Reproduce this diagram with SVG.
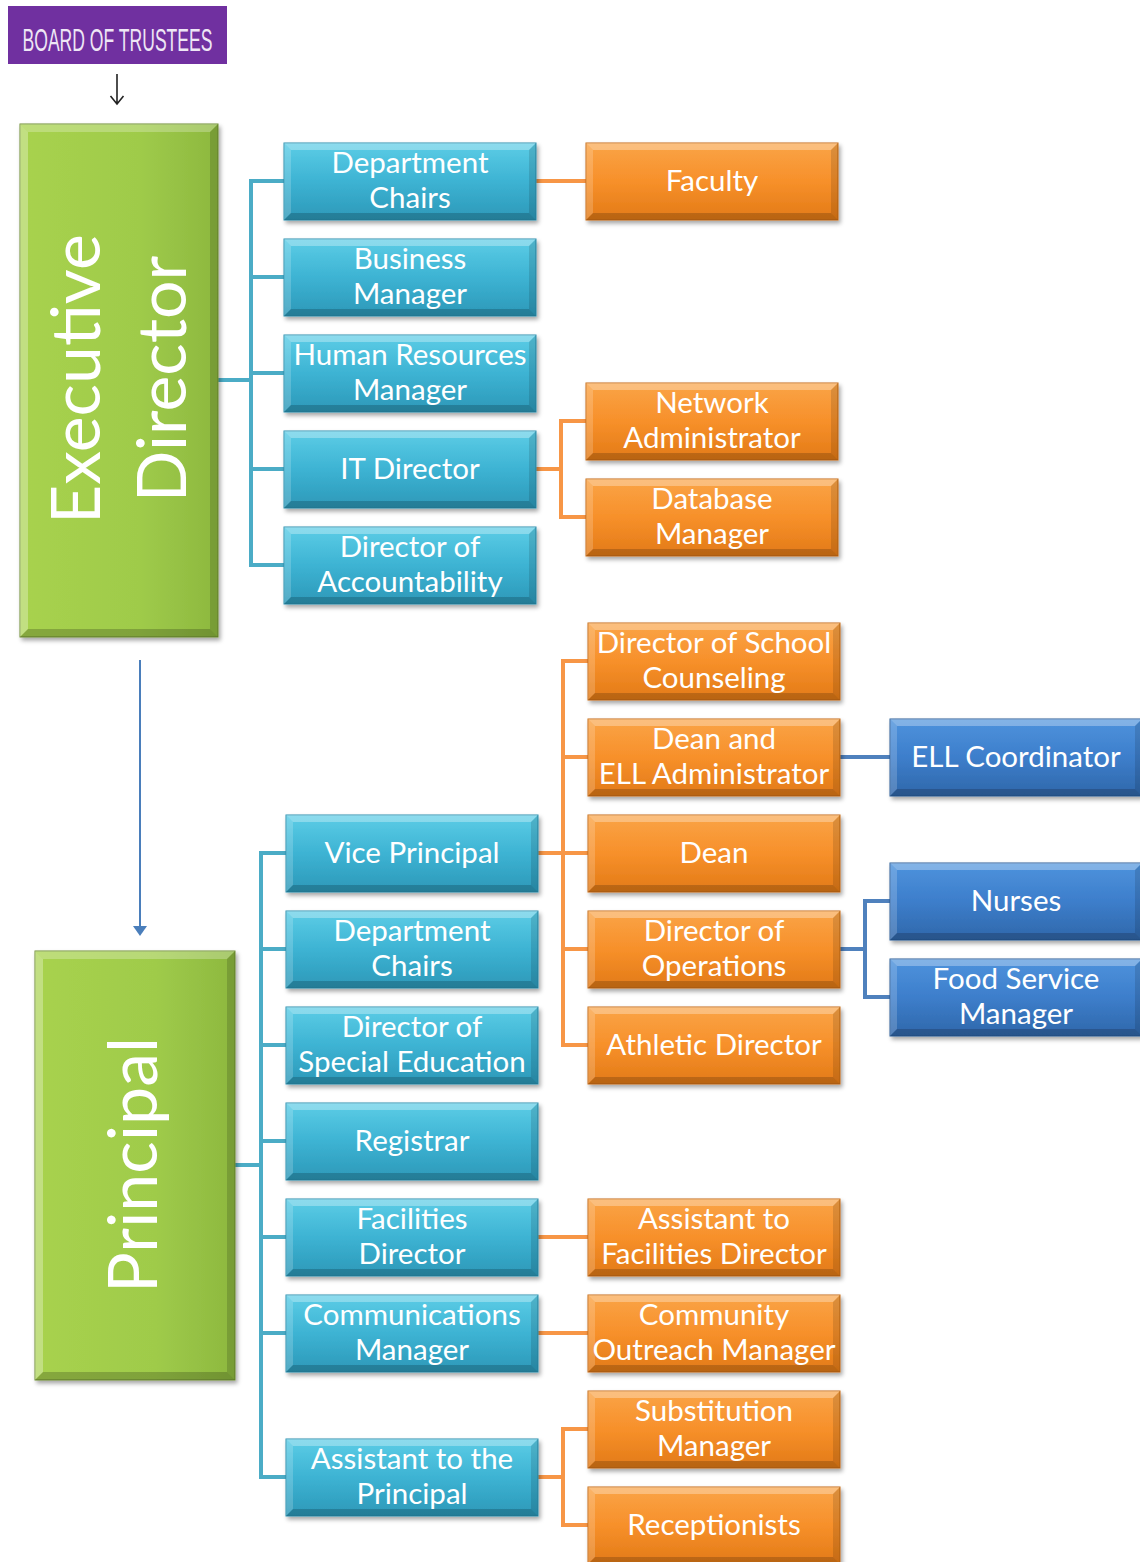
<svg xmlns="http://www.w3.org/2000/svg" xmlns:xlink="http://www.w3.org/1999/xlink" width="1140" height="1562" viewBox="0 0 1140 1562">
<style>
.t{font-family:Lato,"Open Sans",sans-serif;font-size:29.5px;fill:#fff;text-anchor:middle}
.big{font-family:Lato,"Open Sans",sans-serif;font-size:68px;fill:#fff;text-anchor:middle}
.cc{fill:none;stroke:#4BACC6;stroke-width:4}
.co{fill:none;stroke:#F79646;stroke-width:4}
.cb{fill:none;stroke:#4F81BD;stroke-width:4}
</style>
<defs>
<filter id="sh" x="-10%" y="-10%" width="125%" height="130%"><feDropShadow dx="2" dy="3" stdDeviation="2" flood-color="#000" flood-opacity="0.35"/></filter>
<linearGradient id="gC" x1="0" y1="0" x2="0" y2="1"><stop offset="0" stop-color="#5CCDE6"/><stop offset="0.5" stop-color="#3DB3D3"/><stop offset="1" stop-color="#2C98B8"/></linearGradient>
<linearGradient id="gO" x1="0" y1="0" x2="0" y2="1"><stop offset="0" stop-color="#FAA447"/><stop offset="0.5" stop-color="#F7902A"/><stop offset="1" stop-color="#E27A17"/></linearGradient>
<linearGradient id="gB" x1="0" y1="0" x2="0" y2="1"><stop offset="0" stop-color="#4E93DD"/><stop offset="0.5" stop-color="#3D7ECB"/><stop offset="1" stop-color="#2F67AA"/></linearGradient>
<linearGradient id="gG" x1="0" y1="0" x2="1" y2="0"><stop offset="0" stop-color="#A8D24E"/><stop offset="0.6" stop-color="#9FCB4A"/><stop offset="1" stop-color="#8DB83F"/></linearGradient>
<g id="bev">
<polygon points="0,0 252,0 245,7 7,7" fill="#fff" opacity="0.3"/>
<polygon points="0,0 7,7 7,70 0,77" fill="#fff" opacity="0.18"/>
<polygon points="0,77 7,70 245,70 252,77" fill="#000" opacity="0.18"/>
<polygon points="252,0 252,77 245,70 245,7" fill="#000" opacity="0.12"/>
</g>
<g id="bC"><rect width="252" height="77" fill="url(#gC)" stroke="#2A8FAE" stroke-width="1" filter="url(#sh)"/><use xlink:href="#bev"/></g>
<g id="bO"><rect width="252" height="77" fill="url(#gO)" stroke="#C56A12" stroke-width="1" filter="url(#sh)"/><use xlink:href="#bev"/></g>
<g id="bB"><rect width="252" height="77" fill="url(#gB)" stroke="#2A5C98" stroke-width="1" filter="url(#sh)"/><use xlink:href="#bev"/></g>
</defs>
<rect width="1140" height="1562" fill="#fff"/>

<g id="connectors">
<path d="M117,74 V104 M110.5,96 L117,104 L123.5,96" fill="none" stroke="#222" stroke-width="1.6"/>
<path d="M140,660 V928" fill="none" stroke="#4A7EBB" stroke-width="2"/>
<path d="M133,926 L147,926 L140,936 Z" fill="#4A7EBB"/>
<path class="cc" d="M218,380 H251 M284,181 H251 V565 H284 M251,277 H284 M251,373 H284 M251,469 H284"/>
<path class="co" d="M536,181 H586"/>
<path class="co" d="M536,469 H561 M586,421 H561 V517 H586"/>
<path class="cc" d="M235,1165 H261 M286,853 H261 V1477 H286 M261,949 H286 M261,1045 H286 M261,1141 H286 M261,1237 H286 M261,1333 H286"/>
<path class="co" d="M538,853 H563 M588,661 H563 V1045 H588 M563,757 H588 M563,853 H588 M563,949 H588"/>
<path class="cb" d="M840,757 H890"/>
<path class="cb" d="M840,949 H865 M890,901 H865 V997 H890"/>
<path class="co" d="M538,1237 H588 M538,1333 H588"/>
<path class="co" d="M538,1477 H563 M588,1429 H563 V1525 H588"/>
</g>

<g id="board">
<rect x="8" y="6" width="219" height="58" fill="#7030A0"/>
<text x="117.5" y="51" font-family="'Liberation Sans',sans-serif" font-size="31" fill="#EEE6F5" text-anchor="middle" textLength="190" lengthAdjust="spacingAndGlyphs">BOARD OF TRUSTEES</text>
</g>

<g id="exec">
<rect x="20" y="124" width="198" height="513" fill="url(#gG)" stroke="#6E8E34" stroke-width="1" filter="url(#sh)"/>
<polygon points="20,124 218,124 210,132 28,132" fill="#fff" opacity="0.25"/>
<polygon points="20,124 28,132 28,629 20,637" fill="#fff" opacity="0.3"/>
<polygon points="20,637 28,629 210,629 218,637" fill="#000" opacity="0.2"/>
<polygon points="218,124 218,637 210,629 210,132" fill="#000" opacity="0.15"/>
<text class="big" transform="translate(100,379) rotate(-90)">Executive</text>
<text class="big" transform="translate(186,379) rotate(-90)">Director</text>
</g>

<g id="principal">
<rect x="35" y="951" width="200" height="429" fill="url(#gG)" stroke="#6E8E34" stroke-width="1" filter="url(#sh)"/>
<polygon points="35,951 235,951 227,959 43,959" fill="#fff" opacity="0.25"/>
<polygon points="35,951 43,959 43,1372 35,1380" fill="#fff" opacity="0.3"/>
<polygon points="35,1380 43,1372 227,1372 235,1380" fill="#000" opacity="0.2"/>
<polygon points="235,951 235,1380 227,1372 227,959" fill="#000" opacity="0.15"/>
<text class="big" transform="translate(157,1165) rotate(-90)">Principal</text>
</g>

<g id="ed-dept-chairs" transform="translate(284,143)"><use xlink:href="#bC"/><text class="t" x="126" y="30">Department</text><text class="t" x="126" y="65">Chairs</text></g>
<g id="business-manager" transform="translate(284,239)"><use xlink:href="#bC"/><text class="t" x="126" y="30">Business</text><text class="t" x="126" y="65">Manager</text></g>
<g id="hr-manager" transform="translate(284,335)"><use xlink:href="#bC"/><text class="t" x="126" y="30">Human Resources</text><text class="t" x="126" y="65">Manager</text></g>
<g id="it-director" transform="translate(284,431)"><use xlink:href="#bC"/><text class="t" x="126" y="48">IT Director</text></g>
<g id="dir-accountability" transform="translate(284,527)"><use xlink:href="#bC"/><text class="t" x="126" y="30">Director of</text><text class="t" x="126" y="65">Accountability</text></g>

<g id="faculty" transform="translate(586,143)"><use xlink:href="#bO"/><text class="t" x="126" y="48">Faculty</text></g>
<g id="network-admin" transform="translate(586,383)"><use xlink:href="#bO"/><text class="t" x="126" y="30">Network</text><text class="t" x="126" y="65">Administrator</text></g>
<g id="database-manager" transform="translate(586,479)"><use xlink:href="#bO"/><text class="t" x="126" y="30">Database</text><text class="t" x="126" y="65">Manager</text></g>

<g id="vice-principal" transform="translate(286,815)"><use xlink:href="#bC"/><text class="t" x="126" y="48">Vice Principal</text></g>
<g id="p-dept-chairs" transform="translate(286,911)"><use xlink:href="#bC"/><text class="t" x="126" y="30">Department</text><text class="t" x="126" y="65">Chairs</text></g>
<g id="dir-special-ed" transform="translate(286,1007)"><use xlink:href="#bC"/><text class="t" x="126" y="30">Director of</text><text class="t" x="126" y="65">Special Education</text></g>
<g id="registrar" transform="translate(286,1103)"><use xlink:href="#bC"/><text class="t" x="126" y="48">Registrar</text></g>
<g id="facilities-director" transform="translate(286,1199)"><use xlink:href="#bC"/><text class="t" x="126" y="30">Facilities</text><text class="t" x="126" y="65">Director</text></g>
<g id="communications-manager" transform="translate(286,1295)"><use xlink:href="#bC"/><text class="t" x="126" y="30">Communications</text><text class="t" x="126" y="65">Manager</text></g>
<g id="assistant-principal" transform="translate(286,1439)"><use xlink:href="#bC"/><text class="t" x="126" y="30">Assistant to the</text><text class="t" x="126" y="65">Principal</text></g>

<g id="dir-counseling" transform="translate(588,623)"><use xlink:href="#bO"/><text class="t" x="126" y="30">Director of School</text><text class="t" x="126" y="65">Counseling</text></g>
<g id="dean-ell" transform="translate(588,719)"><use xlink:href="#bO"/><text class="t" x="126" y="30">Dean and</text><text class="t" x="126" y="65">ELL Administrator</text></g>
<g id="dean" transform="translate(588,815)"><use xlink:href="#bO"/><text class="t" x="126" y="48">Dean</text></g>
<g id="dir-operations" transform="translate(588,911)"><use xlink:href="#bO"/><text class="t" x="126" y="30">Director of</text><text class="t" x="126" y="65">Operations</text></g>
<g id="athletic-director" transform="translate(588,1007)"><use xlink:href="#bO"/><text class="t" x="126" y="48">Athletic Director</text></g>
<g id="asst-facilities" transform="translate(588,1199)"><use xlink:href="#bO"/><text class="t" x="126" y="30">Assistant to</text><text class="t" x="126" y="65">Facilities Director</text></g>
<g id="community-outreach" transform="translate(588,1295)"><use xlink:href="#bO"/><text class="t" x="126" y="30">Community</text><text class="t" x="126" y="65">Outreach Manager</text></g>
<g id="substitution-manager" transform="translate(588,1391)"><use xlink:href="#bO"/><text class="t" x="126" y="30">Substitution</text><text class="t" x="126" y="65">Manager</text></g>
<g id="receptionists" transform="translate(588,1487)"><use xlink:href="#bO"/><text class="t" x="126" y="48">Receptionists</text></g>

<g id="ell-coordinator" transform="translate(890,719)"><use xlink:href="#bB"/><text class="t" x="126" y="48">ELL Coordinator</text></g>
<g id="nurses" transform="translate(890,863)"><use xlink:href="#bB"/><text class="t" x="126" y="48">Nurses</text></g>
<g id="food-service" transform="translate(890,959)"><use xlink:href="#bB"/><text class="t" x="126" y="30">Food Service</text><text class="t" x="126" y="65">Manager</text></g>
</svg>
